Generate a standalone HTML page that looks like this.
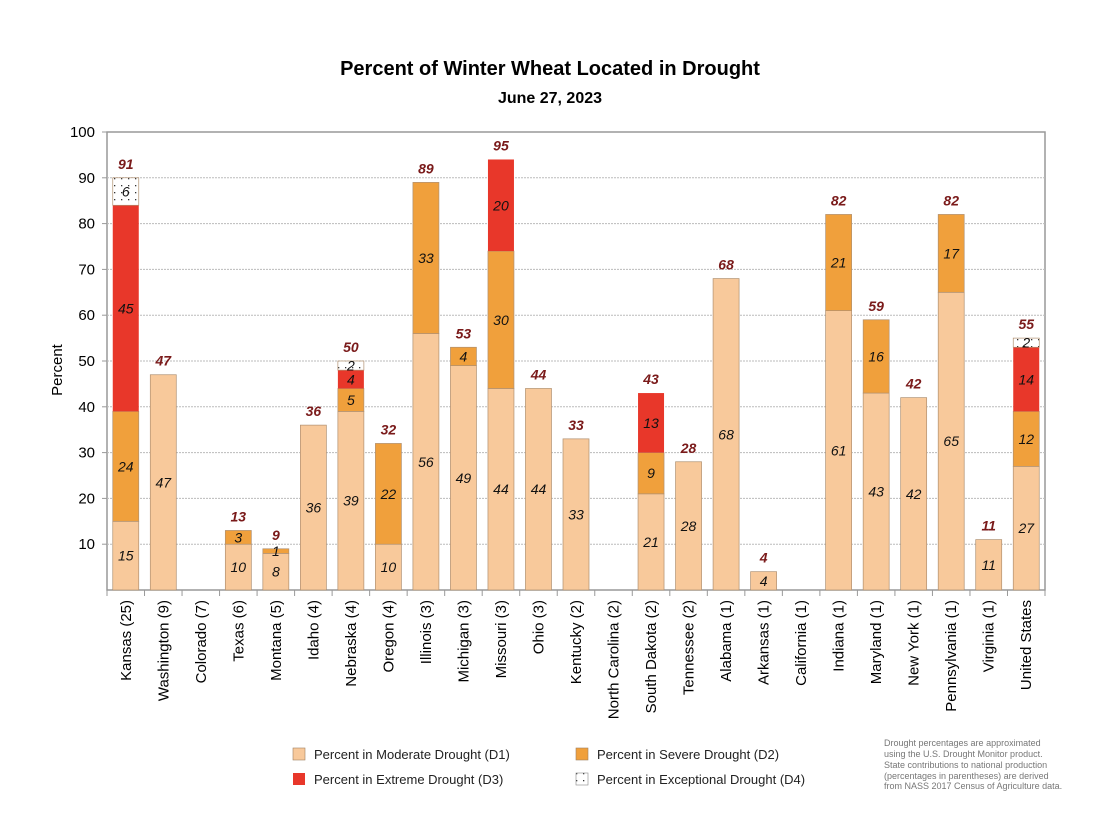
<!DOCTYPE html>
<html><head><meta charset="utf-8"><style>
body{margin:0;background:#fff;font-family:"Liberation Sans",Arial,sans-serif}
svg text{font-family:"Liberation Sans",Arial,sans-serif}
</style></head><body>
<svg id="c" width="1104" height="820" xmlns="http://www.w3.org/2000/svg">
<defs><pattern id="dots" width="7" height="7" patternUnits="userSpaceOnUse"><rect width="7" height="7" fill="#fff"/><rect x="2" y="3" width="1.3" height="1.3" fill="#333"/></pattern></defs>
<text x="550" y="75" text-anchor="middle" font-size="20" font-weight="bold">Percent of Winter Wheat Located in Drought</text>
<text x="550" y="103" text-anchor="middle" font-size="16" font-weight="bold">June 27, 2023</text>
<text transform="translate(62,370) rotate(-90)" text-anchor="middle" font-size="15">Percent</text>
<g id="plot"></g>
<g>
<rect x="293" y="748" width="12" height="12" fill="#f8c99b" stroke="#a08060" stroke-width="0.6"/>
<text x="314" y="759" font-size="13" fill="#222">Percent in Moderate Drought (D1)</text>
<rect x="576" y="748" width="12" height="12" fill="#f0a03c" stroke="#a08060" stroke-width="0.6"/>
<text x="597" y="759" font-size="13" fill="#222">Percent in Severe Drought (D2)</text>
<rect x="293" y="773" width="12" height="12" fill="#e8372a"/>
<text x="314" y="784" font-size="13" fill="#222">Percent in Extreme Drought (D3)</text>
<rect x="576" y="773" width="12" height="12" fill="url(#dots)" stroke="#888" stroke-width="0.6"/>
<text x="597" y="784" font-size="13" fill="#222">Percent in Exceptional Drought (D4)</text>
</g>
<g font-size="9" fill="#777">
<text x="884" y="746">Drought percentages are approximated</text>
<text x="884" y="757">using the U.S. Drought Monitor product.</text>
<text x="884" y="768">State contributions to national production</text>
<text x="884" y="779">(percentages in parentheses) are derived</text>
<text x="884" y="789">from NASS 2017 Census of Agriculture data.</text>
</g>
</svg>
<script>
const categories=["Kansas (25)","Washington (9)","Colorado (7)","Texas (6)","Montana (5)","Idaho (4)","Nebraska (4)","Oregon (4)","Illinois (3)","Michigan (3)","Missouri (3)","Ohio (3)","Kentucky (2)","North Carolina (2)","South Dakota (2)","Tennessee (2)","Alabama (1)","Arkansas (1)","California (1)","Indiana (1)","Maryland (1)","New York (1)","Pennsylvania (1)","Virginia (1)","United States"];
const d1=[15,47,0,10,8,36,39,10,56,49,44,44,33,0,21,28,68,4,0,61,43,42,65,11,27];
const d2=[24,0,0,3,1,0,5,22,33,4,30,0,0,0,9,0,0,0,0,21,16,0,17,0,12];
const d3=[45,0,0,0,0,0,4,0,0,0,20,0,0,0,13,0,0,0,0,0,0,0,0,0,14];
const d4=[6,0,0,0,0,0,2,0,0,0,0,0,0,0,0,0,0,0,0,0,0,0,0,0,2];
const totals=[91,47,0,13,9,36,50,32,89,53,95,44,33,0,43,28,68,4,0,82,59,42,82,11,55];
const yTicks=[10,20,30,40,50,60,70,80,90,100];
const NS="http://www.w3.org/2000/svg";
const L=107,R=1045,T=132,B=590;
const n=categories.length, slot=(R-L)/n, bw=26;
const y=v=>B-(B-T)*v/100;
const xc=i=>L+slot*(i+0.5);
const g=document.getElementById('plot');
function mk(t,a,txt){const e=document.createElementNS(NS,t);for(const k in a)e.setAttribute(k,a[k]);if(txt!==undefined)e.textContent=txt;g.appendChild(e);return e;}
const bg=mk('rect',{x:L,y:T,width:R-L,height:B-T,fill:'#fff',stroke:'#999','stroke-width':1.5});


yTicks.forEach(v=>{
  if(v<100){const gl=mk('line',{x1:L,x2:R,y1:y(v),y2:y(v),stroke:'#bbb','stroke-dasharray':'2,1'});
  
  }
  const tk=mk('line',{x1:L-5,x2:L,y1:y(v),y2:y(v),stroke:'#999'});
  
  
  const tl=mk('text',{x:L-12,y:y(v)+5,'text-anchor':'end','font-size':15},v);
  
  
});
for(let i=0;i<=n;i++){const tk=mk('line',{x1:L+slot*i,x2:L+slot*i,y1:B,y2:B+6,stroke:'#999'});

}
const series=[[d1,'#f8c99b','d1'],[d2,'#f0a03c','d2'],[d3,'#e8372a','d3'],[d4,'url(#dots)','d4']];
categories.forEach((c,i)=>{
  let base=0;
  series.forEach(([arr,col,nm])=>{
    const v=arr[i]; if(!v) return;
    const r=mk('rect',{x:xc(i)-bw/2,y:y(base+v),width:bw,height:y(base)-y(base+v),fill:col,stroke:nm=='d3'?'none':'#b09070','stroke-width':0.7});
    
    
    const lb=mk('text',{x:xc(i),y:y(base+v/2)+5,'text-anchor':'middle','font-size':14,'font-style':'italic',fill:'#111'},v);
    
    
    base+=v;
  });
  if(totals[i]){const t=mk('text',{x:xc(i),y:y(base)-9,'text-anchor':'middle','font-size':14,'font-style':'italic','font-weight':'bold',fill:'#7a1a1a'},totals[i]);
  
  }
  const xl=mk('text',{transform:`translate(${xc(i)+5},${B+10}) rotate(-90)`,'text-anchor':'end','font-size':15},c);
  
  
});
</script>
</body></html>
